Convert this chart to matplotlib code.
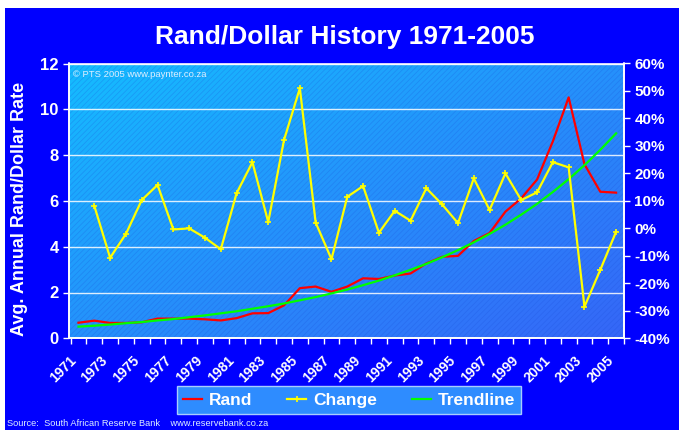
import numpy as np
import matplotlib
matplotlib.use('Agg')
import matplotlib.pyplot as plt
from matplotlib.patches import Rectangle
from matplotlib.lines import Line2D
from matplotlib.ticker import FuncFormatter

# dados
anos = list(range(1971, 2006))
rand = [0.68, 0.77, 0.67, 0.67, 0.70, 0.86, 0.86, 0.86, 0.83, 0.78, 0.88, 1.09,
        1.10, 1.44, 2.19, 2.26, 2.03, 2.26, 2.62, 2.59, 2.74, 2.83, 3.27, 3.56,
        3.60, 4.25, 4.60, 5.53, 6.11, 6.93, 8.60, 10.52, 7.60, 6.40, 6.36]
variacao = [None, 8.2, -10.7, -2.0, 10.3, 15.8, -0.4, 0.0, -3.4, -7.6, 12.8, 24.1,
            2.3, 32.2, 51.0, 2.1, -11.2, 11.5, 15.4, -1.6, 6.4, 2.8, 14.6, 8.7,
            1.9, 18.2, 6.7, 20.0, 10.3, 13.1, 24.1, 22.2, -28.5, -15.1, -1.2]
tendencia = [0.51, 0.55, 0.60, 0.66, 0.71, 0.78, 0.84, 0.92, 1.00, 1.09, 1.18, 1.29,
             1.40, 1.52, 1.66, 1.80, 1.96, 2.13, 2.32, 2.52, 2.75, 2.99, 3.25, 3.54,
             3.85, 4.19, 4.56, 4.96, 5.40, 5.87, 6.39, 6.95, 7.56, 8.23, 8.95]

plt.rcParams['font.family'] = ['Liberation Sans', 'DejaVu Sans']
plt.rcParams['hatch.linewidth'] = 0.5

fig = plt.figure(figsize=(6.79, 4.30), dpi=100, facecolor='white')
fig.patches.append(Rectangle((5 / 679, 0), 1, (430 - 8) / 430, transform=fig.transFigure,
                             facecolor='#0000FF', edgecolor='none', zorder=-10))

ax = fig.add_axes([69 / 679, (430 - 338.3) / 430, 555 / 679, 274.8 / 430])
ax.set_facecolor('none')

# fundo em gradiente diagonal (claro em cima à esquerda)
gx, gy = np.meshgrid(np.linspace(0, 1, 200), np.linspace(0, 1, 200))
t = (gx + 1 - gy) / 2
c0 = np.array([0.08, 0.74, 1.0])
c1 = np.array([0.21, 0.40, 0.97])
img = c0[None, None, :] * (1 - t[..., None]) + c1[None, None, :] * t[..., None]
ax.imshow(img, extent=[0, 1, 0, 1], origin='lower', transform=ax.transAxes,
          aspect='auto', zorder=0)
ax.add_patch(Rectangle((0, 0), 1, 1, transform=ax.transAxes, facecolor='none',
                       hatch='//////', edgecolor=(0.1, 0.3, 0.85, 0.28), lw=0, zorder=0.5))

x = np.arange(len(anos))
ax.set_xlim(-0.5, len(anos) - 0.5)
ax.set_ylim(0, 12)
ax.set_yticks([0, 2, 4, 6, 8, 10, 12])
ax.grid(axis='y', color='white', lw=1, alpha=0.85, zorder=1)

ax.plot(x, rand, color='#FF0000', lw=1.6, zorder=3)
ax.plot(x, tendencia, color='#00FF00', lw=1.6, zorder=3)

ax2 = ax.twinx()
ax2.set_ylim(-40, 60)
ax2.set_yticks(range(-40, 61, 10))
ax2.yaxis.set_major_formatter(FuncFormatter(lambda v, p: '%d%%' % v))
xv = [i for i, v in enumerate(variacao) if v is not None]
yv = [v for v in variacao if v is not None]
ax2.plot(xv, yv, color='#FFFF00', lw=1.6, marker='+', ms=4, mew=1.2, zorder=4)

# eixos: rótulos dos anos um pouco à esquerda do centro da categoria (como no Excel)
ax.set_xticks(x[::2] - 0.6)
ax.set_xticklabels([str(a) for a in anos[::2]], rotation=45, ha='right',
                   rotation_mode='anchor', color='white', fontsize=10, fontweight='bold')
ax.set_xticks(np.arange(-0.5, len(anos), 1), minor=True)
ax.tick_params(axis='x', which='major', length=0, pad=11)
ax.tick_params(axis='x', which='minor', length=4, color='white', width=1)
ax.tick_params(axis='y', colors='white', labelsize=12, length=4, width=1)
for lb in ax.get_yticklabels():
    lb.set_fontweight('bold')
ax2.tick_params(axis='y', colors='white', labelsize=11, length=4, width=1)
for lb in ax2.get_yticklabels():
    lb.set_fontweight('bold')

for a in (ax, ax2):
    for s in a.spines.values():
        s.set_color('white')
        s.set_linewidth(1.2)
    a.spines['top'].set_alpha(0.7)

ax.set_ylabel('Avg. Annual Rand/Dollar Rate', color='white', fontsize=13,
              fontweight='bold')
ax.yaxis.set_label_coords(-0.074, 0.47)

fig.text(0.507, 0.915, 'Rand/Dollar History 1971-2005', color='white', fontsize=19,
         fontweight='bold', ha='center', va='center')
ax.text(0.008, 0.975, '© PTS 2005 www.paynter.co.za', transform=ax.transAxes,
        color='#DDEEFF', fontsize=6.8, va='top', ha='left', zorder=5)
fig.text(7 / 679, 6 / 430, 'Source:  South African Reserve Bank    www.reservebank.co.za',
         color='#DDEEFF', fontsize=6.7, ha='left', va='center')

handles = [Line2D([], [], color='#FF0000', lw=1.6),
           Line2D([], [], color='#FFFF00', lw=1.6, marker='+', ms=4, mew=1.2),
           Line2D([], [], color='#00FF00', lw=1.6)]
leg = fig.legend(handles, ['Rand', 'Change', 'Trendline'], ncol=3, loc='center',
                 bbox_to_anchor=(349 / 679, (430 - 400) / 430), frameon=True,
                 fancybox=False, handlelength=1.1, handletextpad=0.4, columnspacing=2.0,
                 borderpad=0.35, prop={'size': 12.5, 'weight': 'bold'})
leg.get_frame().set_facecolor('#2E8CFF')
leg.get_frame().set_edgecolor('#A8CCFF')
leg.get_frame().set_alpha(1)
for tx in leg.get_texts():
    tx.set_color('white')

fig.savefig('out.png', dpi=100, facecolor=fig.get_facecolor())
